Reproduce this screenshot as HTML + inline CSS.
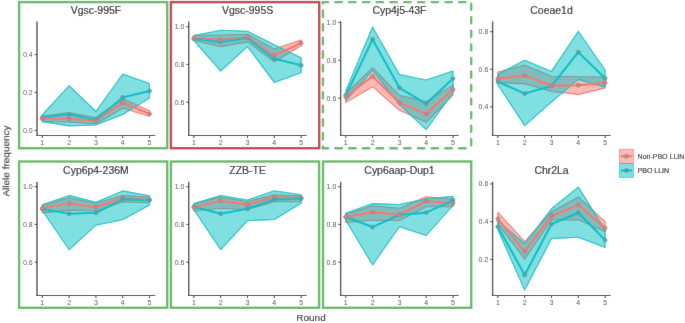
<!DOCTYPE html>
<html><head><meta charset="utf-8"><style>
html,body{margin:0;padding:0;background:#fff;}body{width:685px;height:323px;overflow:hidden;}
svg{display:block;will-change:transform;}text{font-family:"Liberation Sans",sans-serif;}
</style></head><body>
<svg width="685" height="323" viewBox="0 0 685 323">
<defs><filter id="bl" x="0" y="0" width="685" height="323" filterUnits="userSpaceOnUse"><feConvolveMatrix order="3" kernelMatrix="0.0052 0.0619 0.0052 0.0619 0.7314 0.0619 0.0052 0.0619 0.0052" edgeMode="duplicate"/></filter></defs>
<g filter="url(#bl)">
<rect width="685" height="323" fill="#fff"/>
<polygon points="42.3,116 69.1,112.5 95.9,117.5 122.7,98.5 149.5,110.7 149.5,116.3 122.7,108.3 95.9,124 69.1,122 42.3,121.4" fill="#F8766D" fill-opacity="0.5" stroke="#F8766D" stroke-width="1.1" stroke-linejoin="round"/>
<polygon points="42.3,114.8 69.1,85.7 95.9,111.5 122.7,74 149.5,83.6 149.5,98.1 122.7,114.5 95.9,125 69.1,125.9 42.3,121.6" fill="#00BFC4" fill-opacity="0.5" stroke="#00BFC4" stroke-width="1.1" stroke-linejoin="round"/>
<polyline points="42.3,118.7 69.1,118.7 95.9,120.7 122.7,102.6 149.5,113.9" fill="none" stroke="#F8766D" stroke-width="2.1" stroke-linejoin="round" stroke-linecap="butt"/>
<polyline points="42.3,117.5 69.1,114.3 95.9,120 122.7,97.5 149.5,91" fill="none" stroke="#00BFC4" stroke-width="2.1" stroke-linejoin="round" stroke-linecap="butt"/>
<circle cx="42.3" cy="117.5" r="1.95" fill="#00BFC4" stroke="#8a8a8a" stroke-width="0.8"/>
<circle cx="42.3" cy="118.7" r="1.95" fill="#F8766D" stroke="#8a8a8a" stroke-width="0.8"/>
<circle cx="69.1" cy="114.3" r="1.95" fill="#00BFC4" stroke="#8a8a8a" stroke-width="0.8"/>
<circle cx="69.1" cy="118.7" r="1.95" fill="#F8766D" stroke="#8a8a8a" stroke-width="0.8"/>
<circle cx="95.9" cy="120" r="1.95" fill="#00BFC4" stroke="#8a8a8a" stroke-width="0.8"/>
<circle cx="95.9" cy="120.7" r="1.95" fill="#F8766D" stroke="#8a8a8a" stroke-width="0.8"/>
<circle cx="122.7" cy="102.6" r="1.95" fill="#F8766D" stroke="#8a8a8a" stroke-width="0.8"/>
<circle cx="122.7" cy="97.5" r="1.95" fill="#00BFC4" stroke="#8a8a8a" stroke-width="0.8"/>
<circle cx="149.5" cy="113.9" r="1.95" fill="#F8766D" stroke="#8a8a8a" stroke-width="0.8"/>
<circle cx="149.5" cy="91" r="1.95" fill="#00BFC4" stroke="#8a8a8a" stroke-width="0.8"/>
<line x1="37" y1="21.4" x2="37" y2="136.05" stroke="#4a4a4a" stroke-width="1.4"/>
<line x1="36.3" y1="135.5" x2="155.16" y2="135.5" stroke="#2b2b2b" stroke-width="1.1"/>
<line x1="42.3" y1="135.5" x2="42.3" y2="138.1" stroke="#333" stroke-width="1"/>
<text x="42.3" y="144.8" font-size="7" fill="#4d4d4d" text-anchor="middle">1</text>
<line x1="69.1" y1="135.5" x2="69.1" y2="138.1" stroke="#333" stroke-width="1"/>
<text x="69.1" y="144.8" font-size="7" fill="#4d4d4d" text-anchor="middle">2</text>
<line x1="95.9" y1="135.5" x2="95.9" y2="138.1" stroke="#333" stroke-width="1"/>
<text x="95.9" y="144.8" font-size="7" fill="#4d4d4d" text-anchor="middle">3</text>
<line x1="122.7" y1="135.5" x2="122.7" y2="138.1" stroke="#333" stroke-width="1"/>
<text x="122.7" y="144.8" font-size="7" fill="#4d4d4d" text-anchor="middle">4</text>
<line x1="149.5" y1="135.5" x2="149.5" y2="138.1" stroke="#333" stroke-width="1"/>
<text x="149.5" y="144.8" font-size="7" fill="#4d4d4d" text-anchor="middle">5</text>
<line x1="34.6" y1="130.4" x2="37" y2="130.4" stroke="#333" stroke-width="1"/>
<text x="32.7" y="132.9" font-size="7" fill="#4d4d4d" text-anchor="end">0.0</text>
<line x1="34.6" y1="92.4" x2="37" y2="92.4" stroke="#333" stroke-width="1"/>
<text x="32.7" y="94.9" font-size="7" fill="#4d4d4d" text-anchor="end">0.2</text>
<line x1="34.6" y1="54.6" x2="37" y2="54.6" stroke="#333" stroke-width="1"/>
<text x="32.7" y="57.1" font-size="7" fill="#4d4d4d" text-anchor="end">0.4</text>
<text x="95.93" y="13.8" font-size="10.1" fill="#1a1a1a" stroke="#1a1a1a" stroke-width="0.15" text-anchor="middle" textLength="50.53" lengthAdjust="spacingAndGlyphs">Vgsc-995F</text>
<polygon points="193.9,35.5 220.7,35 247.5,34.2 274.3,48.9 301.1,40 301.1,45.8 274.3,61.7 247.5,41.9 220.7,46.6 193.9,40.5" fill="#F8766D" fill-opacity="0.5" stroke="#F8766D" stroke-width="1.1" stroke-linejoin="round"/>
<polygon points="193.9,35.5 220.7,30.3 247.5,31.3 274.3,44.7 301.1,57.8 301.1,72.8 274.3,82.4 247.5,46.6 220.7,71.1 193.9,40.7" fill="#00BFC4" fill-opacity="0.5" stroke="#00BFC4" stroke-width="1.1" stroke-linejoin="round"/>
<polyline points="193.9,38 220.7,39.9 247.5,37.3 274.3,55.5 301.1,43" fill="none" stroke="#F8766D" stroke-width="2.1" stroke-linejoin="round" stroke-linecap="butt"/>
<polyline points="193.9,38.8 220.7,41.9 247.5,38 274.3,58.8 301.1,65.2" fill="none" stroke="#00BFC4" stroke-width="2.1" stroke-linejoin="round" stroke-linecap="butt"/>
<circle cx="193.9" cy="38.8" r="1.95" fill="#00BFC4" stroke="#8a8a8a" stroke-width="0.8"/>
<circle cx="193.9" cy="38" r="1.95" fill="#F8766D" stroke="#8a8a8a" stroke-width="0.8"/>
<circle cx="220.7" cy="41.9" r="1.95" fill="#00BFC4" stroke="#8a8a8a" stroke-width="0.8"/>
<circle cx="220.7" cy="39.9" r="1.95" fill="#F8766D" stroke="#8a8a8a" stroke-width="0.8"/>
<circle cx="247.5" cy="38" r="1.95" fill="#00BFC4" stroke="#8a8a8a" stroke-width="0.8"/>
<circle cx="247.5" cy="37.3" r="1.95" fill="#F8766D" stroke="#8a8a8a" stroke-width="0.8"/>
<circle cx="274.3" cy="55.5" r="1.95" fill="#F8766D" stroke="#8a8a8a" stroke-width="0.8"/>
<circle cx="274.3" cy="58.8" r="1.95" fill="#00BFC4" stroke="#8a8a8a" stroke-width="0.8"/>
<circle cx="301.1" cy="43" r="1.95" fill="#F8766D" stroke="#8a8a8a" stroke-width="0.8"/>
<circle cx="301.1" cy="65.2" r="1.95" fill="#00BFC4" stroke="#8a8a8a" stroke-width="0.8"/>
<line x1="188.75" y1="21.4" x2="188.75" y2="136.05" stroke="#4a4a4a" stroke-width="1.4"/>
<line x1="188.05" y1="135.5" x2="306.76" y2="135.5" stroke="#2b2b2b" stroke-width="1.1"/>
<line x1="193.9" y1="135.5" x2="193.9" y2="138.1" stroke="#333" stroke-width="1"/>
<text x="193.9" y="144.8" font-size="7" fill="#4d4d4d" text-anchor="middle">1</text>
<line x1="220.7" y1="135.5" x2="220.7" y2="138.1" stroke="#333" stroke-width="1"/>
<text x="220.7" y="144.8" font-size="7" fill="#4d4d4d" text-anchor="middle">2</text>
<line x1="247.5" y1="135.5" x2="247.5" y2="138.1" stroke="#333" stroke-width="1"/>
<text x="247.5" y="144.8" font-size="7" fill="#4d4d4d" text-anchor="middle">3</text>
<line x1="274.3" y1="135.5" x2="274.3" y2="138.1" stroke="#333" stroke-width="1"/>
<text x="274.3" y="144.8" font-size="7" fill="#4d4d4d" text-anchor="middle">4</text>
<line x1="301.1" y1="135.5" x2="301.1" y2="138.1" stroke="#333" stroke-width="1"/>
<text x="301.1" y="144.8" font-size="7" fill="#4d4d4d" text-anchor="middle">5</text>
<line x1="186.35" y1="26.7" x2="188.75" y2="26.7" stroke="#333" stroke-width="1"/>
<text x="184.45" y="29.2" font-size="7" fill="#4d4d4d" text-anchor="end">1.0</text>
<line x1="186.35" y1="64.4" x2="188.75" y2="64.4" stroke="#333" stroke-width="1"/>
<text x="184.45" y="66.9" font-size="7" fill="#4d4d4d" text-anchor="end">0.8</text>
<line x1="186.35" y1="102.2" x2="188.75" y2="102.2" stroke="#333" stroke-width="1"/>
<text x="184.45" y="104.7" font-size="7" fill="#4d4d4d" text-anchor="end">0.6</text>
<text x="247.61" y="13.8" font-size="10.1" fill="#1a1a1a" stroke="#1a1a1a" stroke-width="0.15" text-anchor="middle" textLength="51.12" lengthAdjust="spacingAndGlyphs">Vgsc-995S</text>
<polygon points="345.8,93.6 372.6,67.6 399.4,95.4 426.2,101.5 453,85.1 453,95.2 426.2,122.3 399.4,110.3 372.6,86.7 345.8,102.6" fill="#F8766D" fill-opacity="0.5" stroke="#F8766D" stroke-width="1.1" stroke-linejoin="round"/>
<polygon points="345.8,90.6 372.6,27 399.4,74.5 426.2,80 453,70.9 453,92.8 426.2,129.7 399.4,104.6 372.6,70.5 345.8,100.6" fill="#00BFC4" fill-opacity="0.5" stroke="#00BFC4" stroke-width="1.1" stroke-linejoin="round"/>
<polyline points="345.8,96.7 372.6,76.2 399.4,102.8 426.2,113.9 453,89.5" fill="none" stroke="#F8766D" stroke-width="2.1" stroke-linejoin="round" stroke-linecap="butt"/>
<polyline points="345.8,95.2 372.6,39.4 399.4,87.8 426.2,103.8 453,78.6" fill="none" stroke="#00BFC4" stroke-width="2.1" stroke-linejoin="round" stroke-linecap="butt"/>
<circle cx="345.8" cy="95.2" r="1.95" fill="#00BFC4" stroke="#8a8a8a" stroke-width="0.8"/>
<circle cx="345.8" cy="96.7" r="1.95" fill="#F8766D" stroke="#8a8a8a" stroke-width="0.8"/>
<circle cx="372.6" cy="39.4" r="1.95" fill="#00BFC4" stroke="#8a8a8a" stroke-width="0.8"/>
<circle cx="372.6" cy="76.2" r="1.95" fill="#F8766D" stroke="#8a8a8a" stroke-width="0.8"/>
<circle cx="399.4" cy="87.8" r="1.95" fill="#00BFC4" stroke="#8a8a8a" stroke-width="0.8"/>
<circle cx="399.4" cy="102.8" r="1.95" fill="#F8766D" stroke="#8a8a8a" stroke-width="0.8"/>
<circle cx="426.2" cy="113.9" r="1.95" fill="#F8766D" stroke="#8a8a8a" stroke-width="0.8"/>
<circle cx="426.2" cy="103.8" r="1.95" fill="#00BFC4" stroke="#8a8a8a" stroke-width="0.8"/>
<circle cx="453" cy="89.5" r="1.95" fill="#F8766D" stroke="#8a8a8a" stroke-width="0.8"/>
<circle cx="453" cy="78.6" r="1.95" fill="#00BFC4" stroke="#8a8a8a" stroke-width="0.8"/>
<line x1="340.65" y1="21.4" x2="340.65" y2="136.05" stroke="#4a4a4a" stroke-width="1.4"/>
<line x1="339.95" y1="135.5" x2="458.66" y2="135.5" stroke="#2b2b2b" stroke-width="1.1"/>
<line x1="345.8" y1="135.5" x2="345.8" y2="138.1" stroke="#333" stroke-width="1"/>
<text x="345.8" y="144.8" font-size="7" fill="#4d4d4d" text-anchor="middle">1</text>
<line x1="372.6" y1="135.5" x2="372.6" y2="138.1" stroke="#333" stroke-width="1"/>
<text x="372.6" y="144.8" font-size="7" fill="#4d4d4d" text-anchor="middle">2</text>
<line x1="399.4" y1="135.5" x2="399.4" y2="138.1" stroke="#333" stroke-width="1"/>
<text x="399.4" y="144.8" font-size="7" fill="#4d4d4d" text-anchor="middle">3</text>
<line x1="426.2" y1="135.5" x2="426.2" y2="138.1" stroke="#333" stroke-width="1"/>
<text x="426.2" y="144.8" font-size="7" fill="#4d4d4d" text-anchor="middle">4</text>
<line x1="453" y1="135.5" x2="453" y2="138.1" stroke="#333" stroke-width="1"/>
<text x="453" y="144.8" font-size="7" fill="#4d4d4d" text-anchor="middle">5</text>
<line x1="338.25" y1="22.4" x2="340.65" y2="22.4" stroke="#333" stroke-width="1"/>
<text x="336.35" y="24.9" font-size="7" fill="#4d4d4d" text-anchor="end">1.0</text>
<line x1="338.25" y1="60.3" x2="340.65" y2="60.3" stroke="#333" stroke-width="1"/>
<text x="336.35" y="62.8" font-size="7" fill="#4d4d4d" text-anchor="end">0.8</text>
<line x1="338.25" y1="98.2" x2="340.65" y2="98.2" stroke="#333" stroke-width="1"/>
<text x="336.35" y="100.7" font-size="7" fill="#4d4d4d" text-anchor="end">0.6</text>
<text x="399.5" y="13.8" font-size="10.1" fill="#1a1a1a" stroke="#1a1a1a" stroke-width="0.15" text-anchor="middle" textLength="54.01" lengthAdjust="spacingAndGlyphs">Cyp4j5-43F</text>
<polygon points="497.9,72 524.7,65.2 551.5,76.3 578.3,76.7 605.1,77 605.1,87.9 578.3,94.4 551.5,91.5 524.7,83.6 497.9,82.8" fill="#F8766D" fill-opacity="0.5" stroke="#F8766D" stroke-width="1.1" stroke-linejoin="round"/>
<polygon points="497.9,74.3 524.7,60.2 551.5,71.4 578.3,31.2 605.1,70 605.1,87.1 578.3,79.4 551.5,102.2 524.7,125.6 497.9,85" fill="#00BFC4" fill-opacity="0.5" stroke="#00BFC4" stroke-width="1.1" stroke-linejoin="round"/>
<polyline points="497.9,78.6 524.7,75.5 551.5,85.6 578.3,85.2 605.1,82.8" fill="none" stroke="#F8766D" stroke-width="2.1" stroke-linejoin="round" stroke-linecap="butt"/>
<polyline points="497.9,81.7 524.7,93.6 551.5,85.9 578.3,52.2 605.1,78.3" fill="none" stroke="#00BFC4" stroke-width="2.1" stroke-linejoin="round" stroke-linecap="butt"/>
<circle cx="497.9" cy="81.7" r="1.95" fill="#00BFC4" stroke="#8a8a8a" stroke-width="0.8"/>
<circle cx="497.9" cy="78.6" r="1.95" fill="#F8766D" stroke="#8a8a8a" stroke-width="0.8"/>
<circle cx="524.7" cy="93.6" r="1.95" fill="#00BFC4" stroke="#8a8a8a" stroke-width="0.8"/>
<circle cx="524.7" cy="75.5" r="1.95" fill="#F8766D" stroke="#8a8a8a" stroke-width="0.8"/>
<circle cx="551.5" cy="85.9" r="1.95" fill="#00BFC4" stroke="#8a8a8a" stroke-width="0.8"/>
<circle cx="551.5" cy="85.6" r="1.95" fill="#F8766D" stroke="#8a8a8a" stroke-width="0.8"/>
<circle cx="578.3" cy="85.2" r="1.95" fill="#F8766D" stroke="#8a8a8a" stroke-width="0.8"/>
<circle cx="578.3" cy="52.2" r="1.95" fill="#00BFC4" stroke="#8a8a8a" stroke-width="0.8"/>
<circle cx="605.1" cy="82.8" r="1.95" fill="#F8766D" stroke="#8a8a8a" stroke-width="0.8"/>
<circle cx="605.1" cy="78.3" r="1.95" fill="#00BFC4" stroke="#8a8a8a" stroke-width="0.8"/>
<line x1="492.6" y1="21.4" x2="492.6" y2="136.05" stroke="#4a4a4a" stroke-width="1.4"/>
<line x1="491.9" y1="135.5" x2="610.76" y2="135.5" stroke="#2b2b2b" stroke-width="1.1"/>
<line x1="497.9" y1="135.5" x2="497.9" y2="138.1" stroke="#333" stroke-width="1"/>
<text x="497.9" y="144.8" font-size="7" fill="#4d4d4d" text-anchor="middle">1</text>
<line x1="524.7" y1="135.5" x2="524.7" y2="138.1" stroke="#333" stroke-width="1"/>
<text x="524.7" y="144.8" font-size="7" fill="#4d4d4d" text-anchor="middle">2</text>
<line x1="551.5" y1="135.5" x2="551.5" y2="138.1" stroke="#333" stroke-width="1"/>
<text x="551.5" y="144.8" font-size="7" fill="#4d4d4d" text-anchor="middle">3</text>
<line x1="578.3" y1="135.5" x2="578.3" y2="138.1" stroke="#333" stroke-width="1"/>
<text x="578.3" y="144.8" font-size="7" fill="#4d4d4d" text-anchor="middle">4</text>
<line x1="605.1" y1="135.5" x2="605.1" y2="138.1" stroke="#333" stroke-width="1"/>
<text x="605.1" y="144.8" font-size="7" fill="#4d4d4d" text-anchor="middle">5</text>
<line x1="490.2" y1="31.7" x2="492.6" y2="31.7" stroke="#333" stroke-width="1"/>
<text x="488.3" y="34.2" font-size="7" fill="#4d4d4d" text-anchor="end">0.8</text>
<line x1="490.2" y1="69.3" x2="492.6" y2="69.3" stroke="#333" stroke-width="1"/>
<text x="488.3" y="71.8" font-size="7" fill="#4d4d4d" text-anchor="end">0.6</text>
<line x1="490.2" y1="106.9" x2="492.6" y2="106.9" stroke="#333" stroke-width="1"/>
<text x="488.3" y="109.4" font-size="7" fill="#4d4d4d" text-anchor="end">0.4</text>
<text x="551.53" y="13.8" font-size="10.1" fill="#1a1a1a" stroke="#1a1a1a" stroke-width="0.15" text-anchor="middle" textLength="42.41" lengthAdjust="spacingAndGlyphs">Coeae1d</text>
<polygon points="42.3,205.5 69.1,197.7 95.9,203.3 122.7,195.5 149.5,197 149.5,202.8 122.7,202 95.9,211 69.1,210.1 42.3,212.9" fill="#F8766D" fill-opacity="0.5" stroke="#F8766D" stroke-width="1.1" stroke-linejoin="round"/>
<polygon points="42.3,204.7 69.1,195.4 95.9,202.2 122.7,190.9 149.5,195.8 149.5,205.1 122.7,219.8 95.9,225.2 69.1,249.8 42.3,210.5" fill="#00BFC4" fill-opacity="0.5" stroke="#00BFC4" stroke-width="1.1" stroke-linejoin="round"/>
<polyline points="42.3,208.3 69.1,203.5 95.9,207.2 122.7,198.2 149.5,199.8" fill="none" stroke="#F8766D" stroke-width="2.1" stroke-linejoin="round" stroke-linecap="butt"/>
<polyline points="42.3,209 69.1,213.7 95.9,212.8 122.7,199.4 149.5,200" fill="none" stroke="#00BFC4" stroke-width="2.1" stroke-linejoin="round" stroke-linecap="butt"/>
<circle cx="42.3" cy="209" r="1.95" fill="#00BFC4" stroke="#8a8a8a" stroke-width="0.8"/>
<circle cx="42.3" cy="208.3" r="1.95" fill="#F8766D" stroke="#8a8a8a" stroke-width="0.8"/>
<circle cx="69.1" cy="213.7" r="1.95" fill="#00BFC4" stroke="#8a8a8a" stroke-width="0.8"/>
<circle cx="69.1" cy="203.5" r="1.95" fill="#F8766D" stroke="#8a8a8a" stroke-width="0.8"/>
<circle cx="95.9" cy="212.8" r="1.95" fill="#00BFC4" stroke="#8a8a8a" stroke-width="0.8"/>
<circle cx="95.9" cy="207.2" r="1.95" fill="#F8766D" stroke="#8a8a8a" stroke-width="0.8"/>
<circle cx="122.7" cy="198.2" r="1.95" fill="#F8766D" stroke="#8a8a8a" stroke-width="0.8"/>
<circle cx="122.7" cy="199.4" r="1.95" fill="#00BFC4" stroke="#8a8a8a" stroke-width="0.8"/>
<circle cx="149.5" cy="199.8" r="1.95" fill="#F8766D" stroke="#8a8a8a" stroke-width="0.8"/>
<circle cx="149.5" cy="200" r="1.95" fill="#00BFC4" stroke="#8a8a8a" stroke-width="0.8"/>
<line x1="37" y1="181.8" x2="37" y2="296.05" stroke="#4a4a4a" stroke-width="1.4"/>
<line x1="36.3" y1="295.5" x2="155.16" y2="295.5" stroke="#2b2b2b" stroke-width="1.1"/>
<line x1="42.3" y1="295.5" x2="42.3" y2="298.1" stroke="#333" stroke-width="1"/>
<text x="42.3" y="304.8" font-size="7" fill="#4d4d4d" text-anchor="middle">1</text>
<line x1="69.1" y1="295.5" x2="69.1" y2="298.1" stroke="#333" stroke-width="1"/>
<text x="69.1" y="304.8" font-size="7" fill="#4d4d4d" text-anchor="middle">2</text>
<line x1="95.9" y1="295.5" x2="95.9" y2="298.1" stroke="#333" stroke-width="1"/>
<text x="95.9" y="304.8" font-size="7" fill="#4d4d4d" text-anchor="middle">3</text>
<line x1="122.7" y1="295.5" x2="122.7" y2="298.1" stroke="#333" stroke-width="1"/>
<text x="122.7" y="304.8" font-size="7" fill="#4d4d4d" text-anchor="middle">4</text>
<line x1="149.5" y1="295.5" x2="149.5" y2="298.1" stroke="#333" stroke-width="1"/>
<text x="149.5" y="304.8" font-size="7" fill="#4d4d4d" text-anchor="middle">5</text>
<line x1="34.6" y1="186.7" x2="37" y2="186.7" stroke="#333" stroke-width="1"/>
<text x="32.7" y="189.2" font-size="7" fill="#4d4d4d" text-anchor="end">1.0</text>
<line x1="34.6" y1="224.4" x2="37" y2="224.4" stroke="#333" stroke-width="1"/>
<text x="32.7" y="226.9" font-size="7" fill="#4d4d4d" text-anchor="end">0.8</text>
<line x1="34.6" y1="262.2" x2="37" y2="262.2" stroke="#333" stroke-width="1"/>
<text x="32.7" y="264.7" font-size="7" fill="#4d4d4d" text-anchor="end">0.6</text>
<text x="95.93" y="173.8" font-size="10.1" fill="#1a1a1a" stroke="#1a1a1a" stroke-width="0.15" text-anchor="middle" textLength="65.63" lengthAdjust="spacingAndGlyphs">Cyp6p4-236M</text>
<polygon points="193.9,204 220.7,197.1 247.5,201.5 274.3,194.7 301.1,196 301.1,201.7 274.3,201.7 247.5,209.5 220.7,208.2 193.9,211.3" fill="#F8766D" fill-opacity="0.5" stroke="#F8766D" stroke-width="1.1" stroke-linejoin="round"/>
<polygon points="193.9,203.6 220.7,195.5 247.5,200 274.3,190.8 301.1,194.7 301.1,203.2 274.3,219.5 247.5,220.7 220.7,249.7 193.9,209.8" fill="#00BFC4" fill-opacity="0.5" stroke="#00BFC4" stroke-width="1.1" stroke-linejoin="round"/>
<polyline points="193.9,207.5 220.7,200.8 247.5,204.6 274.3,197.3 301.1,197.8" fill="none" stroke="#F8766D" stroke-width="2.1" stroke-linejoin="round" stroke-linecap="butt"/>
<polyline points="193.9,206.7 220.7,213.7 247.5,208.8 274.3,199.4 301.1,198.6" fill="none" stroke="#00BFC4" stroke-width="2.1" stroke-linejoin="round" stroke-linecap="butt"/>
<circle cx="193.9" cy="206.7" r="1.95" fill="#00BFC4" stroke="#8a8a8a" stroke-width="0.8"/>
<circle cx="193.9" cy="207.5" r="1.95" fill="#F8766D" stroke="#8a8a8a" stroke-width="0.8"/>
<circle cx="220.7" cy="213.7" r="1.95" fill="#00BFC4" stroke="#8a8a8a" stroke-width="0.8"/>
<circle cx="220.7" cy="200.8" r="1.95" fill="#F8766D" stroke="#8a8a8a" stroke-width="0.8"/>
<circle cx="247.5" cy="208.8" r="1.95" fill="#00BFC4" stroke="#8a8a8a" stroke-width="0.8"/>
<circle cx="247.5" cy="204.6" r="1.95" fill="#F8766D" stroke="#8a8a8a" stroke-width="0.8"/>
<circle cx="274.3" cy="197.3" r="1.95" fill="#F8766D" stroke="#8a8a8a" stroke-width="0.8"/>
<circle cx="274.3" cy="199.4" r="1.95" fill="#00BFC4" stroke="#8a8a8a" stroke-width="0.8"/>
<circle cx="301.1" cy="197.8" r="1.95" fill="#F8766D" stroke="#8a8a8a" stroke-width="0.8"/>
<circle cx="301.1" cy="198.6" r="1.95" fill="#00BFC4" stroke="#8a8a8a" stroke-width="0.8"/>
<line x1="188.75" y1="181.8" x2="188.75" y2="296.05" stroke="#4a4a4a" stroke-width="1.4"/>
<line x1="188.05" y1="295.5" x2="306.76" y2="295.5" stroke="#2b2b2b" stroke-width="1.1"/>
<line x1="193.9" y1="295.5" x2="193.9" y2="298.1" stroke="#333" stroke-width="1"/>
<text x="193.9" y="304.8" font-size="7" fill="#4d4d4d" text-anchor="middle">1</text>
<line x1="220.7" y1="295.5" x2="220.7" y2="298.1" stroke="#333" stroke-width="1"/>
<text x="220.7" y="304.8" font-size="7" fill="#4d4d4d" text-anchor="middle">2</text>
<line x1="247.5" y1="295.5" x2="247.5" y2="298.1" stroke="#333" stroke-width="1"/>
<text x="247.5" y="304.8" font-size="7" fill="#4d4d4d" text-anchor="middle">3</text>
<line x1="274.3" y1="295.5" x2="274.3" y2="298.1" stroke="#333" stroke-width="1"/>
<text x="274.3" y="304.8" font-size="7" fill="#4d4d4d" text-anchor="middle">4</text>
<line x1="301.1" y1="295.5" x2="301.1" y2="298.1" stroke="#333" stroke-width="1"/>
<text x="301.1" y="304.8" font-size="7" fill="#4d4d4d" text-anchor="middle">5</text>
<line x1="186.35" y1="186.7" x2="188.75" y2="186.7" stroke="#333" stroke-width="1"/>
<text x="184.45" y="189.2" font-size="7" fill="#4d4d4d" text-anchor="end">1.0</text>
<line x1="186.35" y1="224.4" x2="188.75" y2="224.4" stroke="#333" stroke-width="1"/>
<text x="184.45" y="226.9" font-size="7" fill="#4d4d4d" text-anchor="end">0.8</text>
<line x1="186.35" y1="262.2" x2="188.75" y2="262.2" stroke="#333" stroke-width="1"/>
<text x="184.45" y="264.7" font-size="7" fill="#4d4d4d" text-anchor="end">0.6</text>
<text x="247.61" y="173.8" font-size="10.1" fill="#1a1a1a" stroke="#1a1a1a" stroke-width="0.15" text-anchor="middle" textLength="36.57" lengthAdjust="spacingAndGlyphs">ZZB-TE</text>
<polygon points="345.8,214 372.6,205.8 399.4,208.4 426.2,196.8 453,199 453,206.7 426.2,206.7 399.4,220.5 372.6,220.2 345.8,222.5" fill="#F8766D" fill-opacity="0.5" stroke="#F8766D" stroke-width="1.1" stroke-linejoin="round"/>
<polygon points="345.8,213.2 372.6,203.6 399.4,204.5 426.2,198.9 453,196.2 453,205.5 426.2,235.5 399.4,226.7 372.6,265 345.8,220.2" fill="#00BFC4" fill-opacity="0.5" stroke="#00BFC4" stroke-width="1.1" stroke-linejoin="round"/>
<polyline points="345.8,217.1 372.6,212.1 399.4,214.8 426.2,201 453,203.3" fill="none" stroke="#F8766D" stroke-width="2.1" stroke-linejoin="round" stroke-linecap="butt"/>
<polyline points="345.8,217 372.6,227.1 399.4,214.7 426.2,212.6 453,200.2" fill="none" stroke="#00BFC4" stroke-width="2.1" stroke-linejoin="round" stroke-linecap="butt"/>
<circle cx="345.8" cy="217" r="1.95" fill="#00BFC4" stroke="#8a8a8a" stroke-width="0.8"/>
<circle cx="345.8" cy="217.1" r="1.95" fill="#F8766D" stroke="#8a8a8a" stroke-width="0.8"/>
<circle cx="372.6" cy="227.1" r="1.95" fill="#00BFC4" stroke="#8a8a8a" stroke-width="0.8"/>
<circle cx="372.6" cy="212.1" r="1.95" fill="#F8766D" stroke="#8a8a8a" stroke-width="0.8"/>
<circle cx="399.4" cy="214.7" r="1.95" fill="#00BFC4" stroke="#8a8a8a" stroke-width="0.8"/>
<circle cx="399.4" cy="214.8" r="1.95" fill="#F8766D" stroke="#8a8a8a" stroke-width="0.8"/>
<circle cx="426.2" cy="201" r="1.95" fill="#F8766D" stroke="#8a8a8a" stroke-width="0.8"/>
<circle cx="426.2" cy="212.6" r="1.95" fill="#00BFC4" stroke="#8a8a8a" stroke-width="0.8"/>
<circle cx="453" cy="203.3" r="1.95" fill="#F8766D" stroke="#8a8a8a" stroke-width="0.8"/>
<circle cx="453" cy="200.2" r="1.95" fill="#00BFC4" stroke="#8a8a8a" stroke-width="0.8"/>
<line x1="340.65" y1="181.8" x2="340.65" y2="296.05" stroke="#4a4a4a" stroke-width="1.4"/>
<line x1="339.95" y1="295.5" x2="458.66" y2="295.5" stroke="#2b2b2b" stroke-width="1.1"/>
<line x1="345.8" y1="295.5" x2="345.8" y2="298.1" stroke="#333" stroke-width="1"/>
<text x="345.8" y="304.8" font-size="7" fill="#4d4d4d" text-anchor="middle">1</text>
<line x1="372.6" y1="295.5" x2="372.6" y2="298.1" stroke="#333" stroke-width="1"/>
<text x="372.6" y="304.8" font-size="7" fill="#4d4d4d" text-anchor="middle">2</text>
<line x1="399.4" y1="295.5" x2="399.4" y2="298.1" stroke="#333" stroke-width="1"/>
<text x="399.4" y="304.8" font-size="7" fill="#4d4d4d" text-anchor="middle">3</text>
<line x1="426.2" y1="295.5" x2="426.2" y2="298.1" stroke="#333" stroke-width="1"/>
<text x="426.2" y="304.8" font-size="7" fill="#4d4d4d" text-anchor="middle">4</text>
<line x1="453" y1="295.5" x2="453" y2="298.1" stroke="#333" stroke-width="1"/>
<text x="453" y="304.8" font-size="7" fill="#4d4d4d" text-anchor="middle">5</text>
<line x1="338.25" y1="186.7" x2="340.65" y2="186.7" stroke="#333" stroke-width="1"/>
<text x="336.35" y="189.2" font-size="7" fill="#4d4d4d" text-anchor="end">1.0</text>
<line x1="338.25" y1="224.4" x2="340.65" y2="224.4" stroke="#333" stroke-width="1"/>
<text x="336.35" y="226.9" font-size="7" fill="#4d4d4d" text-anchor="end">0.8</text>
<line x1="338.25" y1="262.2" x2="340.65" y2="262.2" stroke="#333" stroke-width="1"/>
<text x="336.35" y="264.7" font-size="7" fill="#4d4d4d" text-anchor="end">0.6</text>
<text x="399.5" y="173.8" font-size="10.1" fill="#1a1a1a" stroke="#1a1a1a" stroke-width="0.15" text-anchor="middle" textLength="70.29" lengthAdjust="spacingAndGlyphs">Cyp6aap-Dup1</text>
<polygon points="497.9,212.4 524.7,241.5 551.5,211.8 578.3,197 605.1,221.6 605.1,231.8 578.3,219.7 551.5,220 524.7,259.1 497.9,223.6" fill="#F8766D" fill-opacity="0.5" stroke="#F8766D" stroke-width="1.1" stroke-linejoin="round"/>
<polygon points="497.9,221 524.7,243.5 551.5,208.8 578.3,187.1 605.1,229.8 605.1,247.6 578.3,237.3 551.5,238.6 524.7,290.1 497.9,229.8" fill="#00BFC4" fill-opacity="0.5" stroke="#00BFC4" stroke-width="1.1" stroke-linejoin="round"/>
<polyline points="497.9,218.9 524.7,251.3 551.5,216 578.3,205.1 605.1,228.1" fill="none" stroke="#F8766D" stroke-width="2.1" stroke-linejoin="round" stroke-linecap="butt"/>
<polyline points="497.9,226.7 524.7,274.9 551.5,224.1 578.3,212.7 605.1,240.1" fill="none" stroke="#00BFC4" stroke-width="2.1" stroke-linejoin="round" stroke-linecap="butt"/>
<circle cx="497.9" cy="226.7" r="1.95" fill="#00BFC4" stroke="#8a8a8a" stroke-width="0.8"/>
<circle cx="497.9" cy="218.9" r="1.95" fill="#F8766D" stroke="#8a8a8a" stroke-width="0.8"/>
<circle cx="524.7" cy="274.9" r="1.95" fill="#00BFC4" stroke="#8a8a8a" stroke-width="0.8"/>
<circle cx="524.7" cy="251.3" r="1.95" fill="#F8766D" stroke="#8a8a8a" stroke-width="0.8"/>
<circle cx="551.5" cy="224.1" r="1.95" fill="#00BFC4" stroke="#8a8a8a" stroke-width="0.8"/>
<circle cx="551.5" cy="216" r="1.95" fill="#F8766D" stroke="#8a8a8a" stroke-width="0.8"/>
<circle cx="578.3" cy="205.1" r="1.95" fill="#F8766D" stroke="#8a8a8a" stroke-width="0.8"/>
<circle cx="578.3" cy="212.7" r="1.95" fill="#00BFC4" stroke="#8a8a8a" stroke-width="0.8"/>
<circle cx="605.1" cy="228.1" r="1.95" fill="#F8766D" stroke="#8a8a8a" stroke-width="0.8"/>
<circle cx="605.1" cy="240.1" r="1.95" fill="#00BFC4" stroke="#8a8a8a" stroke-width="0.8"/>
<line x1="492.6" y1="181.8" x2="492.6" y2="296.05" stroke="#4a4a4a" stroke-width="1.4"/>
<line x1="491.9" y1="295.5" x2="610.76" y2="295.5" stroke="#2b2b2b" stroke-width="1.1"/>
<line x1="497.9" y1="295.5" x2="497.9" y2="298.1" stroke="#333" stroke-width="1"/>
<text x="497.9" y="304.8" font-size="7" fill="#4d4d4d" text-anchor="middle">1</text>
<line x1="524.7" y1="295.5" x2="524.7" y2="298.1" stroke="#333" stroke-width="1"/>
<text x="524.7" y="304.8" font-size="7" fill="#4d4d4d" text-anchor="middle">2</text>
<line x1="551.5" y1="295.5" x2="551.5" y2="298.1" stroke="#333" stroke-width="1"/>
<text x="551.5" y="304.8" font-size="7" fill="#4d4d4d" text-anchor="middle">3</text>
<line x1="578.3" y1="295.5" x2="578.3" y2="298.1" stroke="#333" stroke-width="1"/>
<text x="578.3" y="304.8" font-size="7" fill="#4d4d4d" text-anchor="middle">4</text>
<line x1="605.1" y1="295.5" x2="605.1" y2="298.1" stroke="#333" stroke-width="1"/>
<text x="605.1" y="304.8" font-size="7" fill="#4d4d4d" text-anchor="middle">5</text>
<line x1="490.2" y1="183.9" x2="492.6" y2="183.9" stroke="#333" stroke-width="1"/>
<text x="488.3" y="186.4" font-size="7" fill="#4d4d4d" text-anchor="end">0.6</text>
<line x1="490.2" y1="221.65" x2="492.6" y2="221.65" stroke="#333" stroke-width="1"/>
<text x="488.3" y="224.15" font-size="7" fill="#4d4d4d" text-anchor="end">0.4</text>
<line x1="490.2" y1="259.4" x2="492.6" y2="259.4" stroke="#333" stroke-width="1"/>
<text x="488.3" y="261.9" font-size="7" fill="#4d4d4d" text-anchor="end">0.2</text>
<text x="551.53" y="173.8" font-size="10.1" fill="#1a1a1a" stroke="#1a1a1a" stroke-width="0.15" text-anchor="middle" textLength="34.27" lengthAdjust="spacingAndGlyphs">Chr2La</text>
<rect x="19.1" y="2.1" width="148.1" height="146.1" fill="none" stroke="#66bb6a" stroke-width="2.4"/>
<rect x="170.9" y="2.1" width="148.3" height="146.1" fill="none" stroke="#c44150" stroke-width="2.4"/>
<line x1="322.9" y1="2.1" x2="471.2" y2="2.1" stroke="#66bb6a" stroke-width="2.4" stroke-dasharray="6.5 7.25" stroke-dashoffset="1.3" stroke-linecap="round"/>
<line x1="322.9" y1="148.2" x2="471.2" y2="148.2" stroke="#66bb6a" stroke-width="2.4" stroke-dasharray="6.5 7.25" stroke-dashoffset="1.3" stroke-linecap="round"/>
<line x1="322.9" y1="2.1" x2="322.9" y2="148.2" stroke="#66bb6a" stroke-width="2.4" stroke-dasharray="6.5 7.1" stroke-dashoffset="5.2" stroke-linecap="round"/>
<line x1="471.2" y1="2.1" x2="471.2" y2="148.2" stroke="#66bb6a" stroke-width="2.4" stroke-dasharray="6 7.56" stroke-dashoffset="11.96" stroke-linecap="round"/>
<rect x="19.1" y="161.5" width="148.1" height="146.3" fill="none" stroke="#66bb6a" stroke-width="2.4"/>
<rect x="170.9" y="161.5" width="148.2" height="146.3" fill="none" stroke="#66bb6a" stroke-width="2.4"/>
<rect x="323" y="161.5" width="148.2" height="146.3" fill="none" stroke="#66bb6a" stroke-width="2.4"/>
<text x="0" y="0" font-size="9.75" fill="#1a1a1a" stroke="#1a1a1a" stroke-width="0.1" text-anchor="middle" textLength="71.15" lengthAdjust="spacingAndGlyphs" transform="translate(9.3,161) rotate(-90)">Allele frequency</text>
<text x="311" y="321.3" font-size="9.8" fill="#1a1a1a" stroke="#1a1a1a" stroke-width="0.1" text-anchor="middle" textLength="29.47" lengthAdjust="spacingAndGlyphs">Round</text>
<rect x="619.3" y="149.2" width="14.2" height="14.2" fill="#F8766D" fill-opacity="0.5" stroke="#F8766D" stroke-width="0.7" stroke-opacity="0.8"/>
<line x1="620.7" y1="156.3" x2="632.1" y2="156.3" stroke="#F8766D" stroke-width="1.9"/>
<circle cx="626.4" cy="156.3" r="1.95" fill="#F8766D" stroke="#8a8a8a" stroke-width="0.8"/>
<text x="637.6" y="159.3" font-size="7" fill="#1a1a1a" stroke="#1a1a1a" stroke-width="0.12">Non-PBO LLIN</text>
<rect x="619.3" y="163.4" width="14.2" height="14.2" fill="#00BFC4" fill-opacity="0.5" stroke="#00BFC4" stroke-width="0.7" stroke-opacity="0.8"/>
<line x1="620.7" y1="170.5" x2="632.1" y2="170.5" stroke="#00BFC4" stroke-width="1.9"/>
<circle cx="626.4" cy="170.5" r="1.95" fill="#00BFC4" stroke="#8a8a8a" stroke-width="0.8"/>
<text x="637.6" y="173.1" font-size="7" fill="#1a1a1a" stroke="#1a1a1a" stroke-width="0.12">PBO LLIN</text>
</g></svg></body></html>
